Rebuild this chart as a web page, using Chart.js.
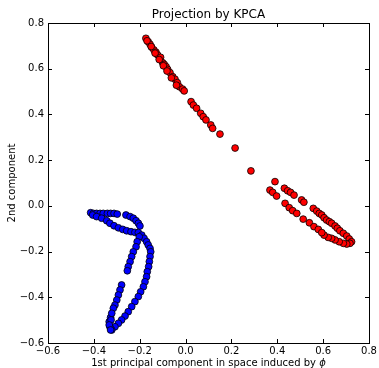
<!DOCTYPE html>
<html>
<head>
<meta charset="utf-8">
<script src="https://cdn.jsdelivr.net/npm/chart.js@4/dist/chart.umd.min.js"></script>
<style>
  html, body { margin: 0; padding: 0; background: #fff; }
  #wrap { width: 379px; height: 368px; }
</style>
</head>
<body>
<div id="wrap"><canvas id="chartjs"></canvas></div>
<script>
"use strict";

var chartTitle = "Projection by KPCA";
var xTitle = "1st principal component in space induced by ";
var xTitleSymbol = "\u03D5";
var yTitle = "2nd component";
var axisTicks = [-0.6, -0.4, -0.2, 0.0, 0.2, 0.4, 0.6, 0.8];

// red class
var redX = [-0.173, -0.163, -0.155, -0.148, -0.138, -0.129, -0.122, -0.109, -0.100, -0.093,
  -0.085, -0.078, -0.068, -0.056, -0.046, -0.036, -0.027, -0.013, -0.006, 0.024,
  0.034, 0.048, 0.066, 0.077, 0.089, 0.110, 0.118, 0.150, 0.216, 0.285,
  0.390, 0.368, 0.380, 0.397, 0.431, 0.445, 0.458, 0.473, 0.434, 0.452,
  0.467, 0.485, 0.506, 0.516, 0.513, 0.540, 0.557, 0.572, 0.583, 0.560,
  0.579, 0.594, 0.604, 0.615, 0.627, 0.637, 0.652, 0.662, 0.673, 0.688,
  0.703, 0.714, 0.724, 0.717, 0.703, 0.688, 0.670, 0.652, 0.637, 0.622,
  0.604, 0.594, -0.168, -0.150, -0.133, -0.115, -0.097, -0.081, -0.062, -0.040];
var redY = [0.733, 0.718, 0.707, 0.694, 0.682, 0.672, 0.660, 0.650, 0.626, 0.619,
  0.609, 0.597, 0.583, 0.565, 0.554, 0.539, 0.521, 0.511, 0.503, 0.456,
  0.441, 0.427, 0.405, 0.390, 0.376, 0.354, 0.339, 0.314, 0.253, 0.153,
  0.106, 0.069, 0.059, 0.043, 0.077, 0.066, 0.059, 0.047, 0.011, -0.008,
  -0.021, -0.033, 0.026, 0.016, -0.058, -0.074, -0.011, -0.023, -0.033, -0.091,
  -0.103, -0.040, -0.052, -0.062, -0.069, -0.076, -0.088, -0.098, -0.109, -0.120,
  -0.132, -0.145, -0.157, -0.164, -0.167, -0.164, -0.157, -0.149, -0.142, -0.138,
  -0.128, -0.117, 0.722, 0.697, 0.668, 0.640, 0.613, 0.590, 0.560, 0.528];

// blue class
var blueX = [-0.414, -0.402, -0.388, -0.373, -0.359, -0.341, -0.327, -0.312, -0.298, -0.405,
  -0.388, -0.366, -0.344, -0.330, -0.312, -0.293, -0.274, -0.257, -0.238, -0.221,
  -0.206, -0.260, -0.242, -0.228, -0.216, -0.206, -0.199, -0.191, -0.181, -0.170,
  -0.163, -0.155, -0.152, -0.202, -0.211, -0.216, -0.228, -0.235, -0.242, -0.250,
  -0.254, -0.155, -0.158, -0.161, -0.167, -0.170, -0.177, -0.184, -0.196, -0.206,
  -0.221, -0.235, -0.250, -0.264, -0.279, -0.293, -0.308, -0.322, -0.330, -0.333,
  -0.327, -0.279, -0.286, -0.293, -0.300, -0.308, -0.315, -0.322, -0.325, -0.333,
  -0.327];
var blueY = [-0.030, -0.033, -0.033, -0.033, -0.033, -0.033, -0.033, -0.033, -0.036, -0.040,
  -0.047, -0.054, -0.065, -0.076, -0.087, -0.096, -0.103, -0.109, -0.113, -0.116,
  -0.117, -0.040, -0.047, -0.054, -0.065, -0.076, -0.088, -0.128, -0.142, -0.157,
  -0.171, -0.186, -0.201, -0.135, -0.157, -0.179, -0.201, -0.222, -0.244, -0.266,
  -0.284, -0.222, -0.244, -0.266, -0.288, -0.310, -0.332, -0.354, -0.376, -0.397,
  -0.419, -0.441, -0.463, -0.482, -0.499, -0.514, -0.529, -0.543, -0.529, -0.507,
  -0.488, -0.346, -0.368, -0.390, -0.412, -0.434, -0.448, -0.470, -0.499, -0.521,
  -0.543];

function toPoints(xs, ys) {
  var pts = [];
  for (let i = 0; i < xs.length; i++) {
    pts.push({ x: xs[i], y: ys[i] });
  }
  return pts;
}

function fmt(v) {
  var s = Number(v).toFixed(1);
  if (s === "-0.0") s = "0.0";
  return s.replace("-", "\u2212");
}

// box, inward tick marks and titles, drawn like matplotlib
var frame = {
  id: "frame",
  afterDatasetsDraw: function (chart) {
    var ctx = chart.ctx;
    var a = chart.chartArea;
    var xs = chart.scales.x;
    var ys = chart.scales.y;
    ctx.save();
    ctx.strokeStyle = "#000";
    ctx.lineWidth = 1;
    ctx.beginPath();
    axisTicks.forEach(function (t) {
      var px = Math.round(xs.getPixelForValue(t)) + 0.5;
      ctx.moveTo(px, a.bottom); ctx.lineTo(px, a.bottom - 4);
      ctx.moveTo(px, a.top); ctx.lineTo(px, a.top + 4);
      var py = Math.round(ys.getPixelForValue(t)) + 0.5;
      ctx.moveTo(a.left, py); ctx.lineTo(a.left + 4, py);
      ctx.moveTo(a.right, py); ctx.lineTo(a.right - 4, py);
    });
    ctx.stroke();
    ctx.strokeRect(Math.round(a.left) + 0.5, Math.round(a.top) + 0.5,
      Math.round(a.right - a.left), Math.round(a.bottom - a.top));

    ctx.fillStyle = "#000";
    ctx.textBaseline = "alphabetic";
    ctx.textAlign = "center";
    ctx.font = "12px 'DejaVu Sans'";
    ctx.fillText(chartTitle, (a.left + a.right) / 2, a.top - 5);

    // x title with an italic phi
    ctx.font = "10px 'DejaVu Sans'";
    var w1 = ctx.measureText(xTitle).width;
    ctx.font = "italic 10px 'DejaVu Sans'";
    var w2 = ctx.measureText(xTitleSymbol).width;
    var x0 = (a.left + a.right) / 2 - (w1 + w2) / 2;
    ctx.textAlign = "left";
    ctx.font = "10px 'DejaVu Sans'";
    ctx.fillText(xTitle, x0, 366);
    ctx.font = "italic 10px 'DejaVu Sans'";
    ctx.fillText(xTitleSymbol, x0 + w1, 366);

    // y title
    ctx.translate(15, (a.top + a.bottom) / 2);
    ctx.rotate(-Math.PI / 2);
    ctx.textAlign = "center";
    ctx.font = "10px 'DejaVu Sans'";
    ctx.fillText(yTitle, 0, 0);
    ctx.restore();
  }
};

var ctx0 = document.getElementById("chartjs");
var myChart = new Chart(ctx0, {
  type: "scatter",
  data: {
    datasets: [
      {
        label: "red",
        data: toPoints(redX, redY),
        backgroundColor: "#ff0000",
        borderColor: "#000000",
        borderWidth: 0.8,
        pointRadius: 3.4,
        pointHoverRadius: 3.4
      },
      {
        label: "blue",
        data: toPoints(blueX, blueY),
        backgroundColor: "#0000ff",
        borderColor: "#000000",
        borderWidth: 0.8,
        pointRadius: 3.4,
        pointHoverRadius: 3.4
      }
    ]
  },
  options: {
    responsive: true,
    maintainAspectRatio: false,
    animation: false,
    events: [],
    layout: { padding: { left: 0, right: 10, top: 23, bottom: 0 } },
    plugins: {
      legend: { display: false },
      tooltip: { enabled: false },
      title: { display: false }
    },
    scales: {
      x: {
        type: "linear",
        min: -0.6,
        max: 0.8,
        afterBuildTicks: function (scale) {
          scale.ticks = axisTicks.map(function (v) { return { value: v }; });
        },
        afterFit: function (scale) { scale.height = 25; },
        grid: { display: false, drawTicks: false, tickLength: 0 },
        border: { display: false },
        ticks: {
          color: "#000",
          padding: 2,
          maxRotation: 0,
          font: { family: "'DejaVu Sans'", size: 10 },
          callback: function (v) { return fmt(v); }
        }
      },
      y: {
        type: "linear",
        min: -0.6,
        max: 0.8,
        afterBuildTicks: function (scale) {
          scale.ticks = axisTicks.map(function (v) { return { value: v }; });
        },
        afterFit: function (scale) { scale.width = 48; },
        grid: { display: false, drawTicks: false, tickLength: 0 },
        border: { display: false },
        ticks: {
          color: "#000",
          padding: 4,
          font: { family: "'DejaVu Sans'", size: 10 },
          callback: function (v) { return fmt(v); }
        }
      }
    }
  },
  plugins: [frame]
});
</script>
</body>
</html>
